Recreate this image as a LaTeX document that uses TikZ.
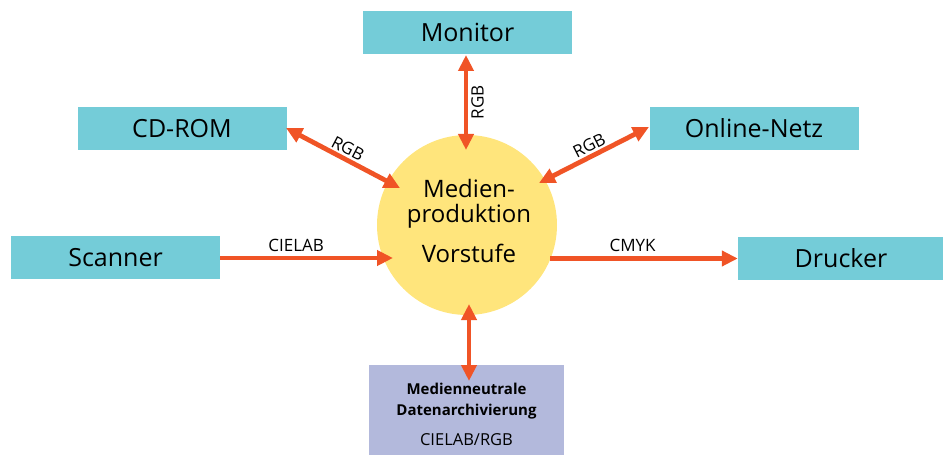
\documentclass[tikz,border=0pt]{standalone}
\usepackage{fontspec}
\setmainfont{Open Sans}
\usetikzlibrary{arrows.meta}
\definecolor{boxc}{HTML}{74CCD8}
\definecolor{circc}{HTML}{FFE57C}
\definecolor{arrc}{HTML}{F05426}
\definecolor{archc}{HTML}{B3B9DC}
\begin{document}
\begin{tikzpicture}[x=1pt,y=-1pt,
  dev/.style={fill=boxc,draw=none,minimum width=209pt,minimum height=43pt,inner sep=0pt,font=\fontsize{25}{30}\selectfont},
  conn/.style={draw=arrc,line width=4.8pt,-{Triangle[length=16pt,width=15pt]}},
  bconn/.style={draw=arrc,line width=4.8pt,{Triangle[length=16pt,width=15pt]}-{Triangle[length=16pt,width=15pt]}},
  ctext/.style={font=\fontsize{24}{28}\selectfont,inner sep=0pt},
  lab/.style={font=\fontsize{17}{20}\selectfont,inner sep=1pt}]
\useasboundingbox (0,0) rectangle (943,457);
\node[circle,fill=circc,minimum size=180pt,inner sep=0pt] (c) at (467,225) {};
\node[ctext] (ct) at (469,189) {Medien-};
\node[ctext] (mp) at (469,216) {produktion};
\node[ctext] (vs) at (469,253) {Vorstufe};
\node[dev] (mon) at (467.5,32.5) {Monitor};
\node[dev] (cd) at (182,128.5) {CD-ROM};
\node[dev] (on) at (754,128.5) {Online-Netz};
\node[dev] (sc) at (115.5,258) {Scanner};
\node[dev,minimum width=206pt] (dr) at (841,258.5) {Drucker};
\node[fill=archc,minimum width=195pt,minimum height=90pt,inner sep=0pt] (ar) at (466.5,410) {};
\node[font=\bfseries\fontsize{15}{18}\selectfont,align=center] (art) at (466.5,401) {Medienneutrale\\[3pt]Datenarchivierung};
\node[font=\fontsize{16.5}{20}\selectfont] (arl) at (466.5,440) {CIELAB/RGB};
\coordinate (m1) at (466,55);
\coordinate (m2) at (466,150);
\coordinate (cd1) at (286,128);
\coordinate (cd2) at (400,188);
\coordinate (on1) at (649,127);
\coordinate (on2) at (539,183);
\coordinate (s2) at (393,258);
\coordinate (d1) at (550,258.5);
\coordinate (a1) at (469,304);
\coordinate (a2) at (469,381);
\draw[bconn] (m1) -- (m2) node[midway,lab,rotate=90,below=2pt] (l1) {RGB};
\draw[bconn] (cd1) -- (cd2) node[midway,lab,sloped,above=1pt] (l2) {RGB};
\draw[bconn] (on1) -- (on2) node[midway,lab,sloped,above=1pt] (l3) {RGB};
\draw[conn] (sc.east) -- (s2) node[pos=0.44,lab,above=3pt] (l4) {CIELAB};
\draw[conn] (d1) -- (dr.west) node[pos=0.44,lab,above=3pt] (l5) {CMYK};
\draw[bconn] (a1) -- (a2);
\end{tikzpicture}
\end{document}
